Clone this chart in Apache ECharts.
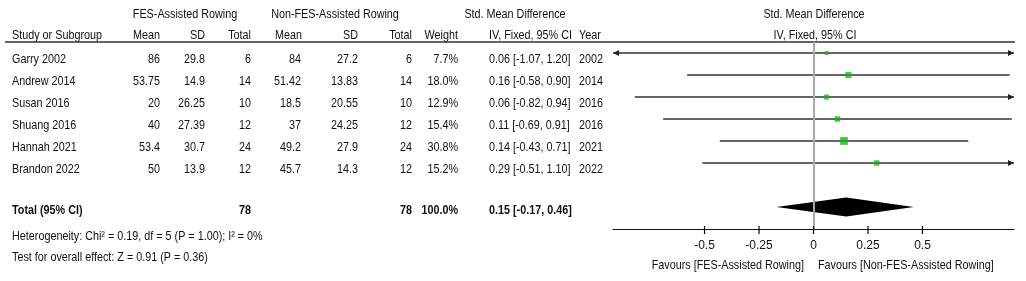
<!DOCTYPE html>
<html>
<head>
<meta charset="utf-8">
<script src="https://cdn.jsdelivr.net/npm/echarts@6/dist/echarts.min.js"></script>
<style>
  html, body { margin: 0; padding: 0; background: #fff; }
  #chart { width: 1026px; height: 281px; }
</style>
</head>
<body>
<div id="chart"></div>
<script>
// study data
const studies = ['Garry 2002', 'Andrew 2014', 'Susan 2016', 'Shuang 2016', 'Hannah 2021', 'Brandon 2022'];
const fesMean = ['86', '53.75', '20', '40', '53.4', '50'];
const fesSd = ['29.8', '14.9', '26.25', '27.39', '30.7', '13.9'];
const fesTotal = [6, 14, 10, 12, 24, 12];
const ctrlMean = ['84', '51.42', '18.5', '37', '49.2', '45.7'];
const ctrlSd = ['27.2', '13.83', '20.55', '24.25', '27.9', '14.3'];
const ctrlTotal = [6, 14, 10, 12, 24, 12];
const weights = [7.7, 18.0, 12.9, 15.4, 30.8, 15.2];
const smd = [0.06, 0.16, 0.06, 0.11, 0.14, 0.29];
const ciLow = [-1.07, -0.58, -0.82, -0.69, -0.43, -0.51];
const ciHigh = [1.20, 0.90, 0.94, 0.91, 0.71, 1.10];
const years = ['2002', '2014', '2016', '2016', '2021', '2022'];

// pooled result
const pooled = { est: 0.15, low: -0.17, high: 0.46, fesN: 78, ctrlN: 78 };
const heterogeneityText = 'Heterogeneity: Chi\u00b2 = 0.19, df = 5 (P = 1.00); I\u00b2 = 0%';
const overallText = 'Test for overall effect: Z = 0.91 (P = 0.36)';

// axis
const tickValues = [-0.5, -0.25, 0, 0.25, 0.5];
const xMin = -0.92;
const xMax = 0.92;
const yMin = -0.5;
const yMax = 8;

const FONT = '"Liberation Sans Narrow", "Arial Narrow", "Liberation Sans", sans-serif';
const TEXT_COLOR = '#111';
const NARROW = 0.83; // no narrow font installed, squeeze the regular one

const chart = echarts.init(document.getElementById('chart'));

// table layout
const rowTextY = (i) => 59 + 22 * i;
const texts = [];
function addText(str, x, y, align, bold) {
  texts.push({
    type: 'text',
    x: x,
    y: y,
    scaleX: NARROW,
    silent: true,
    style: {
      text: str,
      fill: TEXT_COLOR,
      font: (bold ? 'bold ' : '') + '13px ' + FONT,
      textAlign: align,
      align: align,
      textVerticalAlign: 'middle',
      verticalAlign: 'middle'
    }
  });
}

// headers
addText('FES-Assisted Rowing', 185, 14, 'center');
addText('Non-FES-Assisted Rowing', 335, 14, 'center');
addText('Std. Mean Difference', 515, 14, 'center');
addText('Std. Mean Difference', 814, 14, 'center');
addText('Study or Subgroup', 12, 35, 'left');
addText('Mean', 160, 35, 'right');
addText('SD', 205, 35, 'right');
addText('Total', 251, 35, 'right');
addText('Mean', 302, 35, 'right');
addText('SD', 358, 35, 'right');
addText('Total', 412, 35, 'right');
addText('Weight', 458, 35, 'right');
addText('IV, Fixed, 95% CI', 489, 35, 'left');
addText('Year', 579, 35, 'left');
addText('IV, Fixed, 95% CI', 815, 35, 'center');

// rows
studies.forEach((name, i) => {
  const y = rowTextY(i);
  addText(name, 12, y, 'left');
  addText(fesMean[i], 160, y, 'right');
  addText(fesSd[i], 205, y, 'right');
  addText(String(fesTotal[i]), 251, y, 'right');
  addText(ctrlMean[i], 301, y, 'right');
  addText(ctrlSd[i], 358, y, 'right');
  addText(String(ctrlTotal[i]), 412, y, 'right');
  addText(weights[i].toFixed(1) + '%', 458, y, 'right');
  addText(smd[i].toFixed(2) + ' [' + ciLow[i].toFixed(2) + ', ' + ciHigh[i].toFixed(2) + ']', 489, y, 'left');
  addText(years[i], 579, y, 'left');
});

// totals
addText('Total (95% CI)', 12, 210, 'left', true);
addText(String(pooled.fesN), 251, 210, 'right', true);
addText(String(pooled.ctrlN), 412, 210, 'right', true);
addText('100.0%', 458, 210, 'right', true);
addText(pooled.est.toFixed(2) + ' [' + pooled.low.toFixed(2) + ', ' + pooled.high.toFixed(2) + ']', 489, 210, 'left', true);
addText(heterogeneityText, 12, 236, 'left');
addText(overallText, 12, 257, 'left');

// favours labels
addText('Favours [FES-Assisted Rowing]', 804, 265, 'right');
addText('Favours [Non-FES-Assisted Rowing]', 818, 265, 'left');

// header rule
texts.push({
  type: 'line',
  silent: true,
  shape: { x1: 5, y1: 42, x2: 1015, y2: 42 },
  style: { stroke: '#333', lineWidth: 1.5 }
});

const ciData = studies.map((_, i) => [ciLow[i], ciHigh[i], i]);
const pointData = studies.map((_, i) => [smd[i], i, weights[i]]);
const diamondRow = 7;

const option = {
  animation: false,
  backgroundColor: '#fff',
  grid: {
    left: 613,
    right: 12,
    top: 42,
    bottom: 52
  },
  xAxis: {
    type: 'value',
    min: xMin,
    max: xMax,
    axisLine: { show: true, onZero: false, lineStyle: { color: '#111', width: 1.2 } },
    axisTick: { show: false },
    axisLabel: {
      customValues: tickValues,
      margin: 11,
      color: TEXT_COLOR,
      fontFamily: FONT,
      fontSize: 12,
      formatter: (v) => String(v)
    },
    splitLine: { show: false }
  },
  yAxis: {
    type: 'value',
    inverse: true,
    min: yMin,
    max: yMax,
    show: false
  },
  series: [
    {
      // confidence intervals
      type: 'custom',
      data: ciData,
      encode: { x: [0, 1], y: 2 },
      clip: false,
      z: 2,
      renderItem: (params, api) => {
        const lo = api.value(0);
        const hi = api.value(1);
        const row = api.value(2);
        const p1 = api.coord([Math.max(lo, xMin), row]);
        const p2 = api.coord([Math.min(hi, xMax), row]);
        const children = [{
          type: 'line',
          shape: { x1: p1[0], y1: p1[1], x2: p2[0], y2: p2[1] },
          style: { stroke: '#333', lineWidth: 1.3 }
        }];
        if (lo < xMin) {
          children.push({
            type: 'polygon',
            shape: { points: [[p1[0], p1[1]], [p1[0] + 6, p1[1] - 3], [p1[0] + 6, p1[1] + 3]] },
            style: { fill: '#222' }
          });
        }
        if (hi > xMax) {
          children.push({
            type: 'polygon',
            shape: { points: [[p2[0], p2[1]], [p2[0] - 6, p2[1] - 3], [p2[0] - 6, p2[1] + 3]] },
            style: { fill: '#222' }
          });
        }
        return { type: 'group', children: children };
      }
    },
    {
      // point estimates
      type: 'scatter',
      data: pointData,
      symbol: 'rect',
      symbolSize: (val) => Math.sqrt(val[2]) * 1.4,
      itemStyle: { color: '#14b814' },
      z: 3,
      markLine: {
        silent: true,
        symbol: 'none',
        label: { show: false },
        lineStyle: { color: '#a8a8a8', width: 2, type: 'solid' },
        data: [{ xAxis: 0 }]
      }
    },
    {
      // pooled diamond
      type: 'custom',
      data: [[pooled.low, pooled.est, pooled.high, diamondRow]],
      encode: { x: [0, 2], y: 3 },
      z: 4,
      renderItem: (params, api) => {
        const row = api.value(3);
        const left = api.coord([api.value(0), row]);
        const mid = api.coord([api.value(1), row]);
        const right = api.coord([api.value(2), row]);
        const h = 9.5;
        return {
          type: 'polygon',
          shape: { points: [left, [mid[0], mid[1] - h], right, [mid[0], mid[1] + h]] },
          style: { fill: '#000' }
        };
      }
    },
    {
      // axis ticks, crossing the axis line
      type: 'custom',
      data: tickValues.map((v) => [v, yMax]),
      encode: { x: 0, y: 1 },
      clip: false,
      z: 5,
      renderItem: (params, api) => {
        const p = api.coord([api.value(0), api.value(1)]);
        return {
          type: 'line',
          shape: { x1: p[0], y1: p[1] - 3, x2: p[0], y2: p[1] + 5 },
          style: { stroke: '#000', lineWidth: 1.2 }
        };
      }
    }
  ],
  graphic: texts
};

chart.setOption(option);
</script>
</body>
</html>
